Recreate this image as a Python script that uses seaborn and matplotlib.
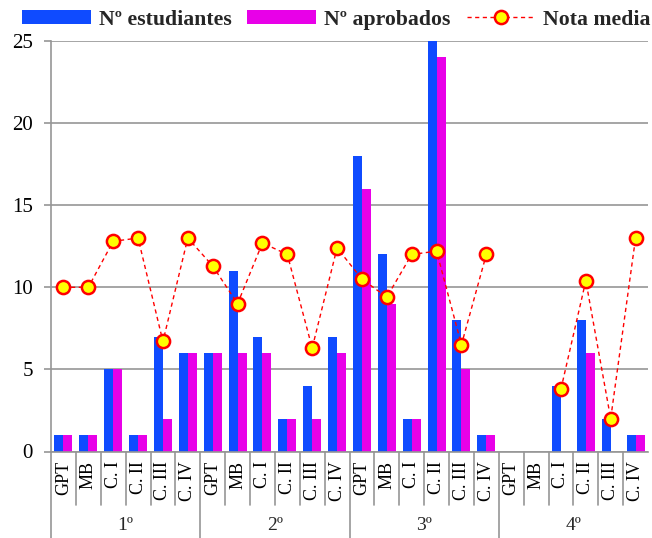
import numpy as np
import pandas as pd
import matplotlib
matplotlib.use('Agg')
import matplotlib.pyplot as plt
import seaborn as sns

# ---- datos ----
cursos = ['1º', '2º', '3º', '4º']
asignaturas = ['GPT', 'MB', 'C. I', 'C. II', 'C. III', 'C. IV']

estudiantes = [1, 1, 5, 1, 7, 6,
               6, 11, 7, 2, 4, 7,
               18, 12, 2, 25, 8, 1,
               0, 0, 4, 8, 2, 1]
aprobados = [1, 1, 5, 1, 2, 6,
             6, 6, 6, 2, 2, 6,
             16, 9, 2, 24, 5, 1,
             0, 0, 0, 6, 0, 1]
nota_media = [10, 10, 12.8, 13, 6.7, 13,
              11.3, 9, 12.7, 12, 6.3, 12.4,
              10.5, 9.4, 12, 12.2, 6.5, 12,
              np.nan, np.nan, 3.8, 10.4, 2, 13]

posiciones = [f'{c}|{a}' for c in cursos for a in asignaturas]

df = pd.DataFrame({'pos': posiciones,
                   'Nº estudiantes': estudiantes,
                   'Nº aprobados': aprobados})
df_long = df.melt(id_vars='pos', var_name='serie', value_name='valor')

# ---- estilo ----
sns.set_theme(style='white')
plt.rcParams['font.family'] = ['Liberation Serif', 'DejaVu Serif']
plt.rcParams['axes.unicode_minus'] = False

fig = plt.figure(figsize=(6.52, 5.38), dpi=100)
ax = fig.add_axes([51 / 652, 1 - 451.5 / 538, 597 / 652, 410.5 / 538])

sns.barplot(data=df_long, x='pos', y='valor', hue='serie', order=posiciones,
            palette={'Nº estudiantes': '#0F4BFF', 'Nº aprobados': '#E800E8'},
            width=0.72, saturation=1, linewidth=0, ax=ax)

x = np.arange(len(posiciones))
ax.plot(x, nota_media, color='red', linestyle=(0, (3, 2.5)), linewidth=1,
        marker='o', markersize=9.5, markerfacecolor='#FFFF00',
        markeredgecolor='red', markeredgewidth=1.8, label='Nota media', zorder=5)

# ejes
ax.set_xlim(-0.5, len(posiciones) - 0.5)
ax.set_ylim(0, 25)
ax.set_yticks(range(0, 26, 5))
ax.yaxis.grid(True, color='#969696', linewidth=1.2)
ax.set_axisbelow(True)
ax.set_xlabel('')
ax.set_ylabel('')
for s in ['top', 'right']:
    ax.spines[s].set_visible(False)
for s in ['left', 'bottom']:
    ax.spines[s].set_color('#969696')
    ax.spines[s].set_linewidth(1.2)
ax.tick_params(axis='y', labelsize=15, length=5, width=1.2, color='#969696',
               left=True, pad=8, labelcolor='black')
ax.set_xticks(x)
ax.set_xticklabels(asignaturas * len(cursos), rotation=90, fontsize=13)
ax.tick_params(axis='x', length=0, pad=7, labelcolor='black')

# separadores del eje de categorías
trans = ax.get_xaxis_transform()
y_sub = -(505 - 451.5) / 410.5
y_grp = -(538 - 451.5) / 410.5
for i in range(len(posiciones)):
    yb = y_grp if i % len(asignaturas) == 0 else y_sub
    ax.plot([i - 0.5, i - 0.5], [0, yb], color='#969696', linewidth=1.2,
            transform=trans, clip_on=False)
for g, c in enumerate(cursos):
    ax.text(g * len(asignaturas) + (len(asignaturas) - 1) / 2,
            -(525 - 451.5) / 410.5, c, transform=trans,
            ha='center', va='center', fontsize=14)

# leyenda
ax.get_legend().remove()
h, l = ax.get_legend_handles_labels()
fig.legend(h, l, loc='center', bbox_to_anchor=(0.516, 0.963), ncol=3,
           frameon=False, prop={'weight': 'bold', 'size': 15.7},
           handlelength=3.15, handleheight=0.64, handletextpad=0.37,
           columnspacing=0.73, numpoints=1)

plt.savefig('out.png', dpi=100)
